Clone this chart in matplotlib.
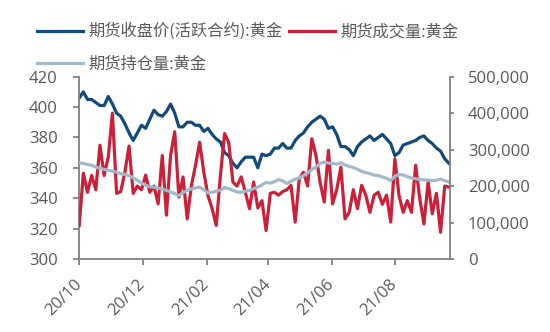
import matplotlib
matplotlib.use('Agg')
import matplotlib.pyplot as plt
import matplotlib.dates as mdates
import matplotlib.ticker as mticker
import pandas as pd

plt.rcParams['font.family'] = ['Open Sans', 'Noto Sans CJK SC', 'DejaVu Sans']

# sample dates (every 4 days)
dates = [
    '2020-10-01', '2020-10-05', '2020-10-09', '2020-10-13', '2020-10-17', '2020-10-21', '2020-10-25', '2020-10-29',
    '2020-11-02', '2020-11-06', '2020-11-10', '2020-11-14', '2020-11-18', '2020-11-22', '2020-11-26', '2020-11-30',
    '2020-12-04', '2020-12-08', '2020-12-12', '2020-12-16', '2020-12-20', '2020-12-24', '2020-12-28',
    '2021-01-01', '2021-01-05', '2021-01-09', '2021-01-13', '2021-01-17', '2021-01-21', '2021-01-25', '2021-01-29',
    '2021-02-02', '2021-02-06', '2021-02-10', '2021-02-14', '2021-02-18', '2021-02-22', '2021-02-26',
    '2021-03-02', '2021-03-06', '2021-03-10', '2021-03-14', '2021-03-18', '2021-03-22', '2021-03-26', '2021-03-30',
    '2021-04-03', '2021-04-07', '2021-04-11', '2021-04-15', '2021-04-19', '2021-04-23', '2021-04-27',
    '2021-05-01', '2021-05-05', '2021-05-09', '2021-05-13', '2021-05-17', '2021-05-21', '2021-05-25', '2021-05-29',
    '2021-06-02', '2021-06-06', '2021-06-10', '2021-06-14', '2021-06-18', '2021-06-22', '2021-06-26', '2021-06-30',
    '2021-07-04', '2021-07-08', '2021-07-12', '2021-07-16', '2021-07-20', '2021-07-24', '2021-07-28',
    '2021-08-01', '2021-08-05', '2021-08-09', '2021-08-13', '2021-08-17', '2021-08-21', '2021-08-25', '2021-08-29',
    '2021-09-02', '2021-09-06', '2021-09-10', '2021-09-14', '2021-09-18', '2021-09-22',
]

# 期货收盘价(活跃合约):黄金, left axis
price = [
    406, 410, 405, 405, 403, 401, 401, 407, 402, 396, 394, 389, 383, 378, 383, 388,
    386, 392, 398, 395, 394, 397, 402, 396, 387, 387, 390, 390, 388, 388, 384,
    386, 382, 379, 377, 370, 368, 363, 360, 364, 367, 367, 367, 360, 369, 368,
    369, 373, 373, 376, 373, 373, 378, 381, 383, 387, 390, 392, 394, 392, 386,
    387, 382, 374, 374, 372, 368, 374, 377, 379, 381, 378, 380, 382, 379, 376,
    368, 370, 375, 376, 377, 378, 380, 381, 378, 376, 373, 371, 366, 363,
]

# 期货成交量:黄金, right axis (thousand)
volume = [
    92, 235, 183, 229, 190, 312, 229, 280, 400, 180, 185, 238, 310, 180, 200, 190,
    230, 183, 200, 151, 284, 120, 284, 349, 170, 225, 110, 200, 257, 320, 238,
    174, 138, 92, 229, 344, 320, 211, 200, 225, 183, 138, 211, 140, 160, 78,
    180, 183, 175, 185, 190, 202, 101, 220, 238, 200, 330, 284, 210, 156, 298,
    151, 190, 252, 110, 128, 190, 138, 202, 175, 128, 175, 183, 150, 175, 101,
    275, 174, 128, 160, 128, 257, 165, 96, 211, 124, 180, 73, 200, 197,
]

# 期货持仓量:黄金, right axis (thousand)
holding = [
    264, 262, 259, 257, 252, 248, 246, 243, 241, 238, 234, 232, 229, 222, 216, 208,
    202, 198, 197, 195, 192, 188, 184, 179, 174, 182, 188, 192, 195, 197, 190,
    181, 183, 186, 188, 196, 193, 188, 184, 183, 186, 188, 193, 197, 203, 210,
    208, 212, 218, 214, 207, 213, 219, 222, 229, 236, 245, 252, 262, 266, 263,
    262, 260, 264, 258, 254, 251, 246, 240, 237, 234, 230, 229, 225, 221, 215,
    227, 232, 230, 226, 222, 220, 218, 217, 216, 215, 216, 219, 215, 211,
]

x = pd.to_datetime(dates)
vol = [v * 1000 for v in volume]
hold = [v * 1000 for v in holding]

blue = '#134a7c'
red = '#cc2038'
grey = '#a3b9c9'
axis_col = '#808080'
txt_col = '#595959'

fig = plt.figure(figsize=(5.5, 3.32), dpi=100)
ax1 = fig.add_axes([0.144, 0.220, 0.674, 0.549])
ax2 = ax1.twinx()

l1, = ax1.plot(x, price, color=blue, lw=2.3, label='期货收盘价(活跃合约):黄金')
l2, = ax2.plot(x, vol, color=red, lw=2.3, label='期货成交量:黄金')
l3, = ax2.plot(x, hold, color=grey, lw=2.3, label='期货持仓量:黄金')

ax1.set_ylim(300, 420)
ax1.set_yticks(range(300, 421, 20))
ax2.set_ylim(0, 500000)
ax2.set_yticks(range(0, 500001, 100000))
ax2.yaxis.set_major_formatter(mticker.FuncFormatter(lambda v, p: f'{int(v):,}'))

ax1.set_xlim(pd.Timestamp('2020-10-01'), pd.Timestamp('2021-09-23'))
ax1.xaxis.set_major_locator(mdates.MonthLocator(bymonth=[2, 4, 6, 8, 10, 12]))
ax1.xaxis.set_major_formatter(mdates.DateFormatter('%y/%m'))

for ax in (ax1, ax2):
    ax.spines['top'].set_visible(False)
    for s in ('left', 'right', 'bottom'):
        ax.spines[s].set_color(axis_col)
        ax.spines[s].set_linewidth(1.3)
    ax.tick_params(colors=axis_col, labelcolor=txt_col, labelsize=12, length=4, width=1.3)
ax1.spines['right'].set_visible(False)
ax2.spines['left'].set_visible(False)
ax2.spines['bottom'].set_visible(False)
ax1.tick_params(axis='y', pad=11.5)
ax2.tick_params(axis='y', length=3, pad=10)
ax1.tick_params(axis='x', pad=12.5)

for lab in ax1.get_xticklabels():
    lab.set_rotation(45)
    lab.set_ha('right')
    lab.set_va('center')
    lab.set_rotation_mode('anchor')

fig.legend(handles=[l1, l3, l2], loc='upper left', bbox_to_anchor=(0.052, 0.9555), ncol=2,
           frameon=False, prop={'family': ['Noto Sans CJK SC', 'DejaVu Sans'], 'size': 11.7},
           handlelength=2.87, handletextpad=0.3, columnspacing=0.4, labelspacing=0.97,
           borderpad=0, labelcolor=txt_col)

fig.savefig('out.png', dpi=100)
